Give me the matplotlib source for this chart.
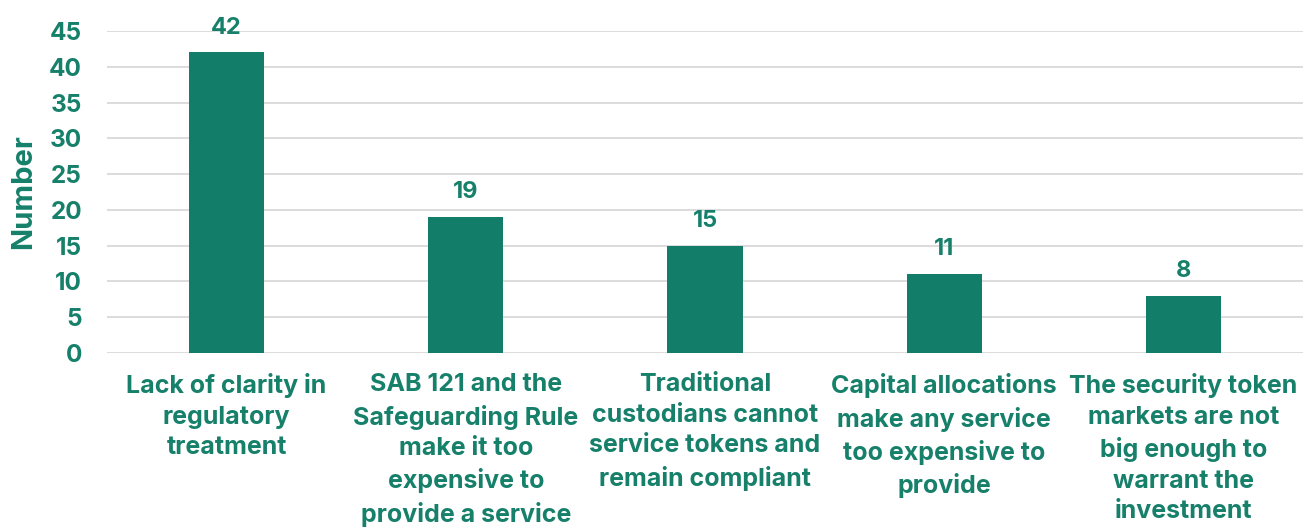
import matplotlib
matplotlib.use("Agg")
import matplotlib.pyplot as plt

categories = [
    "Lack of clarity in\nregulatory\ntreatment",
    "SAB 121 and the\nSafeguarding Rule\nmake it too\nexpensive to\nprovide a service",
    "Traditional\ncustodians cannot\nservice tokens and\nremain compliant",
    "Capital allocations\nmake any service\ntoo expensive to\nprovide",
    "The security token\nmarkets are not\nbig enough to\nwarrant the\ninvestment",
]
values = [42, 19, 15, 11, 8]
y_ticks = [0, 5, 10, 15, 20, 25, 30, 35, 40, 45]

BAR = "#127e6a"
TXT = "#16806a"
GRID = "#d9d9d9"

plt.rcParams["font.family"] = ["Inter", "DejaVu Sans"]
plt.rcParams["font.weight"] = "bold"

fig = plt.figure(figsize=(13.1, 5.3), dpi=100)
ax = fig.add_axes([107 / 1310, 1 - 353 / 530, (1303 - 107) / 1310, (353 - 31) / 530])

x = list(range(len(values)))
ax.bar(x, values, width=0.315, color=BAR, zorder=3)

for xi, v in zip(x, values):
    ax.annotate(str(v), (xi, v), xytext=(0, 10), textcoords="offset points",
                ha="center", va="bottom", fontsize=17, fontweight="bold", color=TXT)

ax.set_xlim(-0.5, len(values) - 0.5)
ax.set_ylim(0, 45)
ax.set_yticks(y_ticks)
ax.set_xticks(x)
ax.set_xticklabels(categories, fontsize=18, fontweight="bold", color=TXT,
                   linespacing=1.42, va="top")
for lbl in ax.get_yticklabels():
    lbl.set_fontsize(17.5)
    lbl.set_fontweight("bold")
    lbl.set_color(TXT)
ax.tick_params(axis="y", length=0, pad=18)
ax.tick_params(axis="x", length=0, pad=14.5)
ax.yaxis.grid(True, color=GRID, linewidth=1.3, zorder=0)
ax.set_axisbelow(True)
for s in ax.spines.values():
    s.set_visible(False)

ax.set_ylabel("Number", fontsize=21, fontweight="bold", color=TXT)
ax.yaxis.set_label_coords(-70 / 1196, 0.5)

fig.savefig("out.png", dpi=100)
